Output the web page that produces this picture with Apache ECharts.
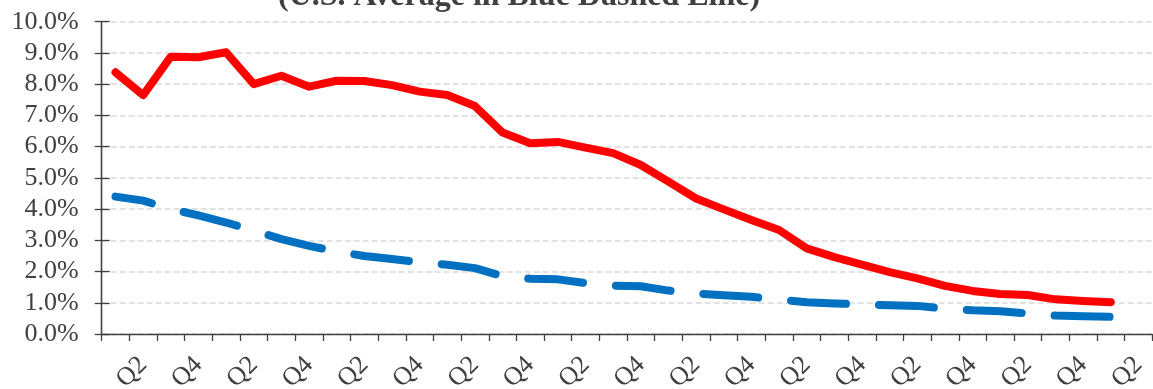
<!DOCTYPE html>
<html><head><meta charset="utf-8">
<script src="https://cdn.jsdelivr.net/npm/echarts@6/dist/echarts.min.js"></script>
<style>html,body{margin:0;padding:0;background:#fff}#c{width:1153px;height:389px}</style>
</head><body><div id="c"></div>
<script>
const titleText = '(U.S. Average in Blue Dashed Line)';
const quarters = ['Q1','Q2','Q3','Q4','Q1','Q2','Q3','Q4','Q1','Q2','Q3','Q4','Q1','Q2','Q3','Q4','Q1','Q2','Q3','Q4',
  'Q1','Q2','Q3','Q4','Q1','Q2','Q3','Q4','Q1','Q2','Q3','Q4','Q1','Q2','Q3','Q4','Q1','Q2'];
const stateRate = [8.38,7.65,8.88,8.86,9.02,8.00,8.27,7.92,8.11,8.10,7.97,7.76,7.65,7.30,6.45,6.11,6.15,5.97,5.79,5.41,
  4.88,4.34,3.99,3.65,3.33,2.74,2.46,2.22,1.98,1.78,1.54,1.38,1.28,1.25,1.11,1.06,1.02];
const usAverage = [4.40,4.27,4.00,3.80,3.57,3.31,3.04,2.82,2.64,2.50,2.40,2.30,2.22,2.11,1.85,1.77,1.75,1.63,1.55,1.53,
  1.39,1.30,1.24,1.19,1.10,1.02,0.98,0.95,0.92,0.90,0.81,0.76,0.73,0.66,0.59,0.57,0.55];
const yMin = 0, yMax = 10, yStep = 1;

const chart = echarts.init(document.getElementById('c'), null, {renderer:'canvas'});
const txt = '#404040';
const font = 'Liberation Serif';
const yBase = {
  type:'value', min:yMin, max:yMax, interval:yStep,
  axisLine:{show:true, lineStyle:{color:txt, width:1.3}},
};
chart.setOption({
  animation:false,
  backgroundColor:'#fff',
  title:{text:titleText, left:273, top:-24, textStyle:{fontFamily:font, fontWeight:'bold', fontSize:32, color:txt}},
  grid:{left:101.7, right:0.7, top:21.7, bottom:55, containLabel:false, outerBoundsMode:'none'},
  xAxis:{
    type:'category', data:quarters, boundaryGap:true,
    axisLine:{lineStyle:{color:txt, width:1.3}},
    axisTick:{show:true, alignWithLabel:false, interval:0, length:7, lineStyle:{color:txt, width:1.3}},
    axisLabel:{interval:(i)=> i%2===1, rotate:45, margin:27, fontFamily:font, fontSize:26, color:txt},
    splitLine:{show:false}
  },
  yAxis:[
    Object.assign({}, yBase, {
      axisTick:{show:true, length:7, lineStyle:{color:txt, width:1.3}},
      axisLabel:{margin:23, fontFamily:font, fontSize:26, color:txt, formatter:(v)=>v.toFixed(1)+'%'},
      splitLine:{show:true, lineStyle:{color:'#d9d9d9', width:1.5, type:[6,3]}}
    }),
    Object.assign({}, yBase, {
      position:'left',
      axisTick:{show:true, inside:true, length:8, lineStyle:{color:txt, width:1.3}},
      axisLabel:{show:false}, splitLine:{show:false}
    })
  ],
  series:[
    {type:'line', name:'State', data:stateRate, showSymbol:false, symbol:'none',
     lineStyle:{color:'#ff0000', width:8, join:'round', cap:'round'}, z:3},
    {type:'line', name:'U.S. Average', data:usAverage, showSymbol:false, symbol:'none',
     lineStyle:{color:'#0070c0', width:8, type:[55,33], dashOffset:18, cap:'round', join:'round'}, z:2}
  ]
});
</script></body></html>
